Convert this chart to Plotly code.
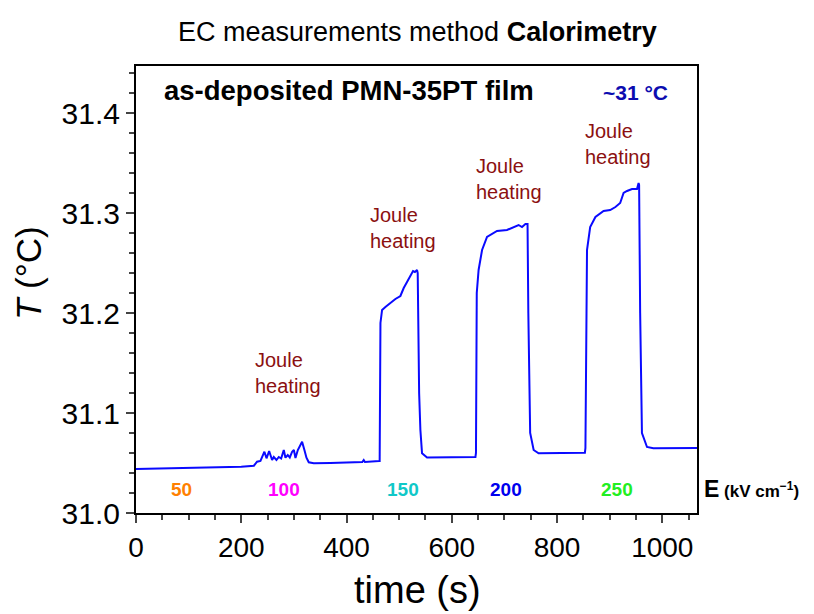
import plotly.graph_objects as go

# ---- data ----
time_s = [0, 100, 200, 224, 230, 236.5, 244, 248, 253, 258.6, 261.8, 266.9, 271.3, 275.8,
          280.8, 284, 288.4, 292.2, 296.7, 300, 303, 307.5, 312.4, 315.6, 320, 323.9, 328.3,
          337.8, 369.4, 430, 432.7, 435, 462,
          463, 464.5, 467.6, 473.9, 483.4, 492.9, 502.4, 508.7, 515, 521.3, 526.4, 530, 534,
          535.3, 538, 540.4, 543.5, 553, 616, 645,
          646, 647.5, 651, 657.6, 667, 673, 686, 705, 714.5, 727, 733.5, 740, 744,
          745.5, 749, 755.6, 765, 800, 853,
          854, 855.5, 857, 863, 873, 888.5, 901, 911, 920, 926.5, 933, 942.5, 952, 955, 956,
          958, 961.4, 971, 983, 1066]
temp_C = [31.044, 31.045, 31.0463, 31.0473, 31.0513, 31.052, 31.0613, 31.0547, 31.062, 31.053,
          31.056, 31.053, 31.056, 31.0545, 31.063, 31.0553, 31.058, 31.0555, 31.0613, 31.063,
          31.055, 31.063, 31.0687, 31.0713, 31.063, 31.0553, 31.0507, 31.0497, 31.050, 31.051,
          31.053, 31.051, 31.052,
          31.052, 31.19, 31.203, 31.206, 31.210, 31.214, 31.217, 31.225, 31.231, 31.237, 31.242,
          31.241, 31.243, 31.24, 31.12, 31.083, 31.0597, 31.0555, 31.056, 31.056,
          31.06, 31.22, 31.243, 31.263, 31.276, 31.278, 31.282, 31.283, 31.285, 31.288, 31.286,
          31.289, 31.289, 31.2, 31.080, 31.063, 31.0597, 31.060, 31.0603,
          31.065, 31.24, 31.263, 31.286, 31.296, 31.302, 31.303, 31.306, 31.310, 31.320, 31.322,
          31.324, 31.324, 31.330, 31.328, 31.2, 31.080, 31.066, 31.0647, 31.065]

field_labels = ["50", "100", "150", "200", "250"]
field_colors = ["#ff8000", "#ff00ff", "#10c8c8", "#0000ee", "#22ee22"]
field_label_t = [86, 282, 508, 703, 914]

joule_t = [223, 440, 643, 850]
joule_T = [31.140, 31.285, 31.334, 31.369]

FONT = "Liberation Sans, Arial, sans-serif"

# plot-area pixel geometry (page is drawn with an 8px body offset)
PL, PT, PW, PH = 136, 66, 561, 447


def px(x):
    return (x - PL) / PW


def py(y):
    return (PT + PH - y) / PH


fig = go.Figure()
fig.add_trace(go.Scatter(x=time_s, y=temp_C, mode="lines",
                         line=dict(color="#0a0aff", width=2), showlegend=False))

ann = []
for t, T in zip(joule_t, joule_T):
    ann.append(dict(x=t, y=T, xref="x", yref="y", text="Joule<br>heating", showarrow=False,
                    xanchor="left", yanchor="middle", align="left",
                    font=dict(family=FONT, size=20, color="#8b1010")))
for lab, col, t in zip(field_labels, field_colors, field_label_t):
    ann.append(dict(x=t, y=py(489), xref="x", yref="paper", text="<b>%s</b>" % lab,
                    showarrow=False, xanchor="center", yanchor="middle",
                    font=dict(family=FONT, size=19, color=col)))
ann += [
    dict(x=px(417), y=py(32), xref="paper", yref="paper",
         text="EC measurements method <b>Calorimetry</b>", showarrow=False,
         xanchor="center", yanchor="middle", font=dict(family=FONT, size=27, color="black")),
    dict(x=px(162), y=py(91), xref="paper", yref="paper",
         text="<b>as-deposited PMN-35PT film</b>", showarrow=False,
         xanchor="left", yanchor="middle", font=dict(family=FONT, size=27.5, color="black")),
    dict(x=px(635), y=py(92), xref="paper", yref="paper",
         text="<b>~31 °C</b>", showarrow=False,
         xanchor="center", yanchor="middle", font=dict(family=FONT, size=21, color="#0c0cb0")),
    dict(x=px(702), y=py(489), xref="paper", yref="paper",
         text="<b><span style='font-size:23px'>E</span> (kV cm<sup>−1</sup>)</b>", showarrow=False,
         xanchor="left", yanchor="middle", font=dict(family=FONT, size=17, color="black")),
    dict(x=px(28), y=py(273), xref="paper", yref="paper",
         text="<i>T</i> (°C)", showarrow=False, textangle=-90,
         xanchor="center", yanchor="middle", font=dict(family=FONT, size=35, color="black")),
    dict(x=px(417), y=py(590), xref="paper", yref="paper",
         text="time (s)", showarrow=False,
         xanchor="center", yanchor="middle", font=dict(family=FONT, size=38, color="black")),
]

fig.update_layout(
    width=806, height=606,
    margin=dict(l=PL - 8, r=806 - (PL - 8) - PW, t=PT - 8, b=606 - (PT - 8) - PH),
    paper_bgcolor="white", plot_bgcolor="white",
    font=dict(family=FONT, color="black"),
    annotations=ann,
    xaxis=dict(range=[0, 1066], tick0=0, dtick=200, ticks="outside", ticklen=8, tickwidth=2,
               showline=True, linewidth=2, linecolor="black", mirror=True, showgrid=False,
               zeroline=False, tickfont=dict(size=28, family=FONT),
               minor=dict(dtick=50, ticks="outside", ticklen=5, tickwidth=2, showgrid=False)),
    yaxis=dict(range=[31.0, 31.447], tick0=31.0, dtick=0.1, tickformat=".1f", ticks="outside",
               ticklen=8, tickwidth=2, showline=True, linewidth=2, linecolor="black", mirror=True,
               showgrid=False, zeroline=False, tickfont=dict(size=30, family=FONT),
               minor=dict(dtick=0.02, ticks="outside", ticklen=5, tickwidth=2, showgrid=False)),
)

fig.write_html("out.html")
